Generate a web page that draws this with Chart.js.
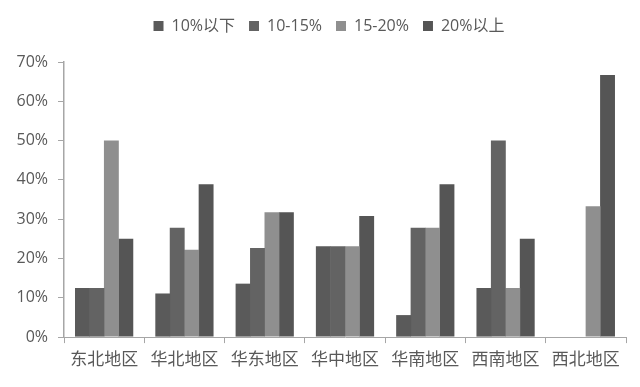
<!DOCTYPE html>
<html>
<head>
<meta charset="utf-8">
<script src="https://cdn.jsdelivr.net/npm/chart.js@4"></script>
<style>
    html, body { margin: 0; padding: 0; background: #fff; }
    #box { position: relative; width: 640px; height: 387px; }
    canvas { filter: blur(0.4px); }
</style>
</head>
<body>
<div id="box"><canvas id="chart"></canvas></div>
<script>
const categories = ['东北地区', '华北地区', '华东地区', '华中地区', '华南地区', '西南地区', '西北地区'];
const below10 = [12.5, 11.1, 13.6, 23.1, 5.6, 12.5, 0];
const from10to15 = [12.5, 27.8, 22.7, 23.1, 27.8, 50, 0];
const from15to20 = [50, 22.2, 31.8, 23.1, 27.8, 12.5, 33.3];
const above20 = [25, 38.9, 31.8, 30.8, 38.9, 25, 66.7];
const seriesNames = ['10%以下', '10-15%', '15-20%', '20%以上'];
const seriesColors = ['#5a5a5a', '#636363', '#8f8f8f', '#555555'];
const yTicks = [0, 10, 20, 30, 40, 50, 60, 70];

const textColor = '#595959';
const fontFamily = '"Open Sans", "Noto Sans CJK SC", sans-serif';

const makeDataset = (i, values) => ({
    label: seriesNames[i],
    data: values,
    backgroundColor: seriesColors[i],
    categoryPercentage: 0.72,
    barPercentage: 1.03
});

// extra room under the legend, and legend sits a bit right of centre
const legendTweak = {
    id: 'legendTweak',
    beforeInit(chart) {
        const fit = chart.legend.fit;
        chart.legend.fit = function () {
            fit.call(this);
            this.height += 18;
        };
    },
    afterLayout(chart) {
        chart.legend.left += 16;
        chart.legend.right += 16;
        chart.legend.adjustHitBoxes();
    }
};

new Chart(document.getElementById('chart'), {
    type: 'bar',
    data: {
        labels: categories,
        datasets: [
            makeDataset(0, below10),
            makeDataset(1, from10to15),
            makeDataset(2, from15to20),
            makeDataset(3, above20)
        ]
    },
    plugins: [legendTweak],
    options: {
        responsive: true,
        maintainAspectRatio: false,
        animation: false,
        layout: { padding: { top: 4, right: 14, bottom: 9.5, left: 0 } },
        plugins: {
            tooltip: { enabled: false },
            legend: {
                position: 'top',
                labels: {
                    boxWidth: 10,
                    boxHeight: 10,
                    padding: 14,
                    color: textColor,
                    font: { family: fontFamily, size: 16 }
                }
            }
        },
        scales: {
            x: {
                grid: { display: true, drawOnChartArea: false, color: '#a6a6a6', tickLength: 6 },
                border: { color: '#a6a6a6' },
                ticks: { color: textColor, padding: 7, maxRotation: 0, autoSkip: false, font: { family: fontFamily, size: 17 } }
            },
            y: {
                min: 0,
                max: 70,
                afterFit: (scale) => { scale.width = 64; },
                afterBuildTicks: (scale) => { scale.ticks = yTicks.map(v => ({ value: v })); },
                grid: { display: true, drawOnChartArea: false, color: '#a6a6a6', tickLength: 6 },
                border: { color: '#a6a6a6', width: 1.5 },
                ticks: {
                    color: textColor,
                    padding: 10,
                    font: { family: fontFamily, size: 16 },
                    callback: (v) => v + '%'
                }
            }
        }
    }
});
</script>
</body>
</html>
